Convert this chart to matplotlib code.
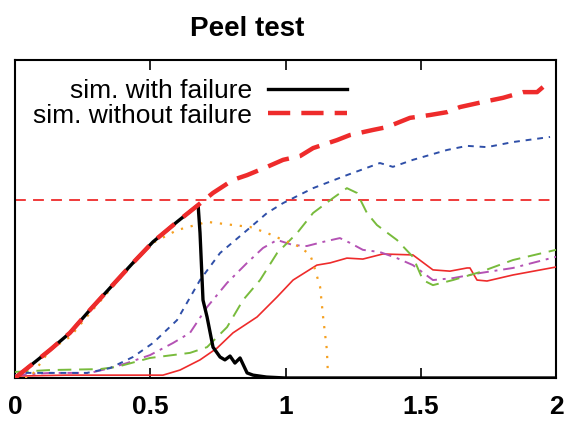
import matplotlib
matplotlib.use("Agg")
import matplotlib.pyplot as plt

plt.rcParams['font.family'] = ['Liberation Sans', 'DejaVu Sans']

# Data (x: displacement, y: force in arbitrary units 0..100)
x_fail = [0, 0.129, 0.203, 0.277, 0.351, 0.436, 0.510, 0.599, 0.677, 0.684, 0.695, 0.710,
          0.732, 0.758, 0.776, 0.795, 0.813, 0.832, 0.858, 0.88, 0.93, 1.0, 2.0]
y_fail = [0, 8.8, 14.2, 21.4, 28.3, 36.2, 42.8, 49.1, 54.4, 45.6, 24.5, 19.2,
          9.7, 6.6, 5.7, 6.9, 4.7, 6.3, 1.6, 0.9, 0.3, 0, 0]

x_nofail = [0, 0.129, 0.203, 0.277, 0.351, 0.436, 0.510, 0.599, 0.677, 0.732, 0.806, 0.858,
            0.932, 0.991, 1.054, 1.102, 1.190, 1.238, 1.323, 1.375, 1.460, 1.534, 1.597,
            1.645, 1.730, 1.804, 1.878, 1.930, 1.952]
y_nofail = [0, 8.8, 14.2, 21.4, 28.3, 36.2, 42.8, 49.1, 54.4, 58.2, 62.3, 63.8,
            66.4, 68.6, 69.8, 72.3, 74.8, 76.4, 78.0, 78.9, 81.8, 82.7, 83.6,
            85.2, 86.8, 88.1, 89.9, 89.9, 91.5]

strength_level = 56.0

x_blue = [0, 0.018, 0.266, 0.351, 0.436, 0.510, 0.599, 0.684, 0.758, 0.858, 0.932, 0.991,
          1.102, 1.227, 1.349, 1.397, 1.471, 1.597, 1.671, 1.745, 1.841, 1.978]
y_blue = [0.5, 1.6, 1.6, 3.1, 6.6, 11.0, 18.2, 30.8, 39.3, 46.5, 51.9, 55.0,
          59.7, 63.8, 67.6, 66.4, 68.6, 71.7, 73.0, 72.6, 74.2, 75.8]

x_orange = [0, 0.055, 0.129, 0.203, 0.277, 0.351, 0.425, 0.510, 0.599, 0.710, 0.806, 0.869,
            0.932, 0.991, 1.054, 1.091, 1.102, 1.128, 1.139, 1.153, 1.157]
y_orange = [0, 0, 8.8, 12.9, 20.4, 27.7, 34.9, 42.5, 46.5, 49.1, 48.1, 47.5,
            45.6, 43.4, 41.2, 38.7, 36.2, 28.6, 19.2, 8.8, 0.9]

x_green = [0, 0.129, 0.314, 0.377, 0.499, 0.647, 0.710, 0.784, 0.843, 0.906, 0.969, 1.043,
           1.102, 1.176, 1.227, 1.264, 1.301, 1.338, 1.412, 1.471, 1.508, 1.545, 1.619,
           1.719, 1.841, 2.0]
y_green = [1.9, 2.5, 2.8, 3.5, 6.3, 7.9, 9.7, 16.0, 24.5, 30.8, 39.3, 45.6,
           51.9, 56.6, 59.7, 58.2, 51.9, 48.1, 43.4, 38.1, 30.8, 29.2, 30.8,
           33.3, 37.1, 40.3]

x_purple = [0, 0.129, 0.277, 0.351, 0.414, 0.499, 0.584, 0.647, 0.710, 0.784, 0.858, 0.917,
            0.969, 1.028, 1.079, 1.139, 1.201, 1.238, 1.286, 1.349, 1.412, 1.471, 1.545,
            1.619, 1.719, 1.841, 2.0]
y_purple = [0.9, 1.6, 1.6, 3.1, 4.7, 7.2, 11.0, 14.2, 22.3, 29.9, 36.2, 40.9,
            43.4, 41.8, 41.5, 42.8, 44.0, 42.5, 40.3, 39.6, 37.7, 35.5, 30.8,
            31.4, 33.0, 34.6, 38.1]

x_redthin = [0, 0.192, 0.547, 0.610, 0.684, 0.747, 0.806, 0.895, 0.969, 1.028, 1.116, 1.165,
             1.227, 1.286, 1.360, 1.471, 1.545, 1.608, 1.671, 1.682, 1.708, 1.745, 1.841, 2.0]
y_redthin = [0.6, 0.9, 0.9, 2.5, 5.7, 9.4, 14.2, 19.2, 25.5, 30.8, 35.5, 36.2,
             37.7, 37.4, 39.0, 38.7, 34.0, 33.6, 34.6, 34.6, 30.8, 30.5, 32.4, 34.9]

xticks = [0, 0.5, 1, 1.5, 2]
xticklabels = ['0', '0.5', '1', '1.5', '2']

fig = plt.figure(figsize=(5.7, 4.24), dpi=100)
ax = fig.add_axes([15/570, 1 - 378/424, 541/570, 318/424])

RED = '#ee2b2b'
ax.axhline(strength_level, color=RED, lw=1.3, dashes=(6, 4), zorder=2)
ax.plot(x_redthin, y_redthin, color=RED, lw=1.2, zorder=3)
ax.plot(x_purple, y_purple, color='#b452b4', lw=1.4, dashes=(6, 3, 1.5, 3), zorder=3)
ax.plot(x_green, y_green, color='#78bb3c', lw=1.4, dashes=(7, 4), zorder=3)
ax.plot(x_orange, y_orange, color='#f5a020', lw=1.6, dashes=(1, 3.5), zorder=3)
ax.plot(x_blue, y_blue, color='#2f4fa8', lw=1.4, dashes=(3, 3), zorder=3)
l1, = ax.plot(x_fail, y_fail, color='black', lw=2.4, zorder=4, label='sim. with failure')
l2, = ax.plot(x_nofail, y_nofail, color=RED, lw=3.2, dashes=(5, 2.5), zorder=5,
              label='sim. without failure')

ax.set_xlim(0, 2)
ax.set_ylim(0, 100)
ax.set_xticks(xticks)
ax.set_xticklabels(xticklabels, fontsize=19, fontweight='bold')
ax.set_yticks([])
ax.tick_params(axis='x', direction='in', length=7, width=1.2, top=True, pad=12)
for s in ax.spines.values():
    s.set_linewidth(1.5)

ax.set_title('Peel test', fontsize=20, fontweight='bold', pad=17, x=0.43)

leg = ax.legend(handles=[l1, l2], loc='upper right', bbox_to_anchor=(0.614, 0.94),
                frameon=False, markerfirst=False, fontsize=19, handlelength=3.0,
                handletextpad=0.6, labelspacing=0.02, borderaxespad=0, borderpad=0)

fig.savefig('out.png', dpi=100)
